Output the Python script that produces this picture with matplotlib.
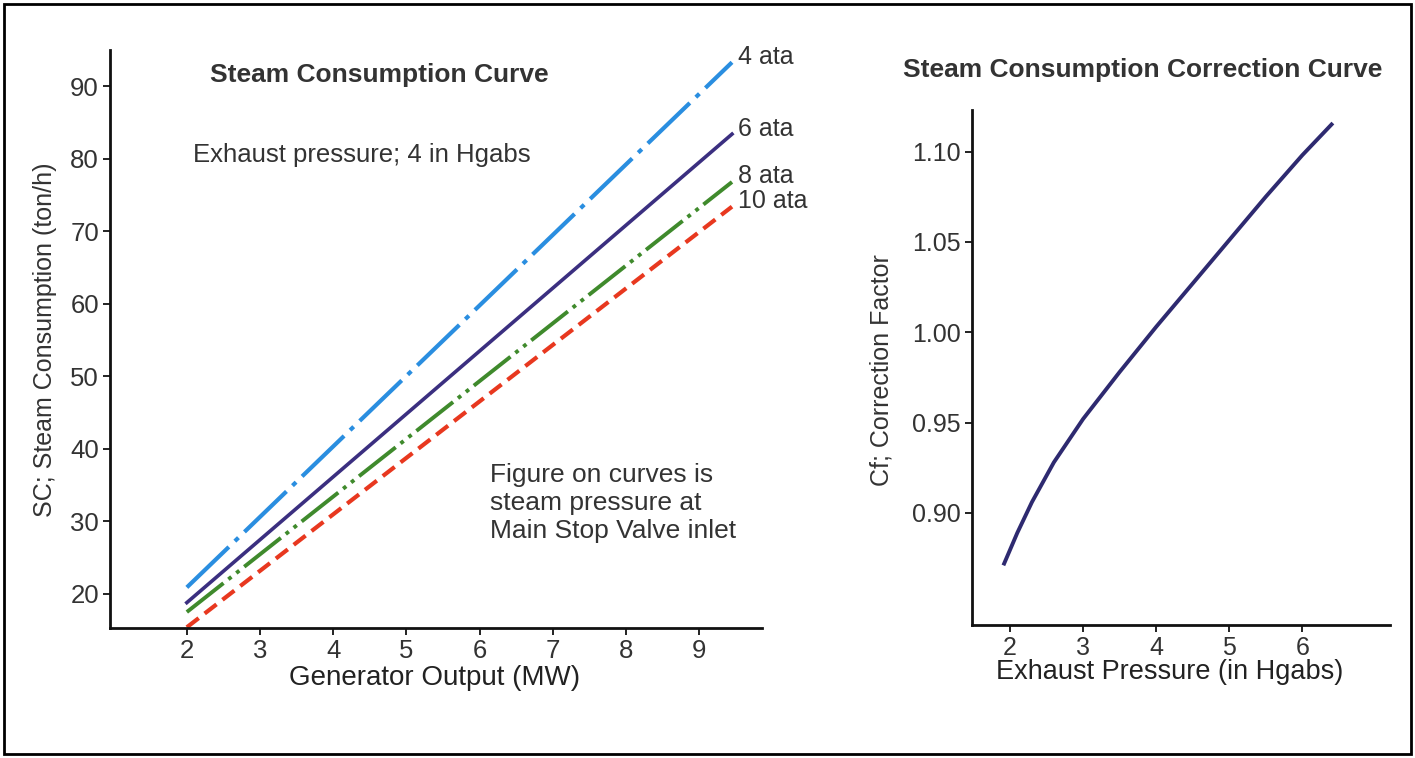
import matplotlib
matplotlib.use("Agg")
from matplotlib import pyplot as plt
from matplotlib.patches import Rectangle

# steam consumption vs generator output, one line per inlet pressure
gen_output = [2.0, 9.45]
sc_4ata = [20.9, 93.3]
sc_6ata = [18.8, 83.4]
sc_8ata = [17.5, 76.8]
sc_10ata = [15.4, 73.4]
line_labels = ["4 ata", "6 ata", "8 ata", "10 ata"]

left_xticks = [2, 3, 4, 5, 6, 7, 8, 9]
left_yticks = [20, 30, 40, 50, 60, 70, 80, 90]

# correction factor vs exhaust pressure
exh_pressure = [1.92, 2.1, 2.3, 2.6, 3.0, 3.5, 4.0, 4.5, 5.0, 5.5, 6.0, 6.4]
corr_factor = [0.872, 0.889, 0.906, 0.928, 0.952, 0.978, 1.003, 1.027,
               1.051, 1.075, 1.098, 1.115]

right_xticks = [2, 3, 4, 5, 6]
right_yticks = [0.90, 0.95, 1.00, 1.05, 1.10]

W, H = 1415, 758
TXT = "#333333"
plt.rcParams["font.family"] = ["Liberation Sans", "DejaVu Sans"]


def box(x0, y0, x1, y1):
    # pixel box (top-left origin) -> figure fraction rect
    return [x0 / W, 1 - y1 / H, (x1 - x0) / W, (y1 - y0) / H]


def style_axes(ax, size):
    for side in ["top", "right"]:
        ax.spines[side].set_visible(False)
    for side in ["left", "bottom"]:
        ax.spines[side].set_linewidth(2)
        ax.spines[side].set_color("#111111")
    ax.tick_params(direction="out", length=5, width=1.3, colors="#111111",
                   labelcolor=TXT, labelsize=size, pad=3)


fig = plt.figure(figsize=(W / 100, H / 100), dpi=100)
fig.add_artist(Rectangle((0.003, 0.005), 0.994, 0.99, transform=fig.transFigure,
                         fill=False, edgecolor="black", linewidth=2))

# left chart
ax1 = fig.add_axes(box(110, 50, 762, 628))
style_axes(ax1, 18.5)
ax1.plot(gen_output, sc_4ata, color="#2a8ee0", lw=3, dashes=(14, 2, 1.2, 2),
         solid_capstyle="butt")
ax1.plot(gen_output, sc_6ata, color="#3b2f80", lw=2.6)
ax1.plot(gen_output, sc_8ata, color="#3f8a2c", lw=2.8,
         dashes=(12, 1.6, 1, 1.6, 1, 1.6))
ax1.plot(gen_output, sc_10ata, color="#e8381f", lw=3, dashes=(3.6, 1.8))
for ys, lab in zip([sc_4ata, sc_6ata, sc_8ata, sc_10ata], line_labels):
    ax1.annotate(lab, xy=(gen_output[-1], ys[-1]), xytext=(4, 4),
                 textcoords="offset points", fontsize=18, color=TXT,
                 ha="left", va="center")
ax1.set_xlim(0.95, 9.86)
ax1.set_ylim(15.3, 95.0)
ax1.set_xticks(left_xticks)
ax1.set_yticks(left_yticks)

fig.text(210 / W, 1 - 75 / H, "Steam Consumption Curve", fontsize=19,
         fontweight="bold", color=TXT, ha="left", va="center")
fig.text(193 / W, 1 - 155 / H, "Exhaust pressure; 4 in Hgabs", fontsize=18.5,
         color=TXT, ha="left", va="center")
fig.text(490 / W, 1 - 503 / H,
         "Figure on curves is\nsteam pressure at\nMain Stop Valve inlet",
         fontsize=19, color=TXT, ha="left", va="center", linespacing=1.2)
fig.text(435 / W, 1 - 678 / H, "Generator Output (MW)", fontsize=20,
         color="#222222", ha="center", va="center")
fig.text(45 / W, 1 - 340 / H, "SC; Steam Consumption (ton/h)", fontsize=18,
         color=TXT, ha="center", va="center", rotation=90)

# right chart
ax2 = fig.add_axes(box(972, 110, 1390, 625))
style_axes(ax2, 18)
ax2.plot(exh_pressure, corr_factor, color="#2e2a70", lw=2.8)
ax2.set_xlim(1.48, 7.2)
ax2.set_ylim(0.838, 1.123)
ax2.set_xticks(right_xticks)
ax2.set_yticks(right_yticks)
ax2.set_yticklabels([f"{v:.2f}" for v in right_yticks])

fig.text(1143 / W, 1 - 70 / H, "Steam Consumption Correction Curve",
         fontsize=19, fontweight="bold", color=TXT, ha="center", va="center")
fig.text(1170 / W, 1 - 672 / H, "Exhaust Pressure (in Hgabs)", fontsize=19.5,
         color="#222222", ha="center", va="center")
fig.text(882 / W, 1 - 370 / H, "Cf; Correction Factor", fontsize=18,
         color=TXT, ha="center", va="center", rotation=90)

fig.savefig("out.png", dpi=100)
